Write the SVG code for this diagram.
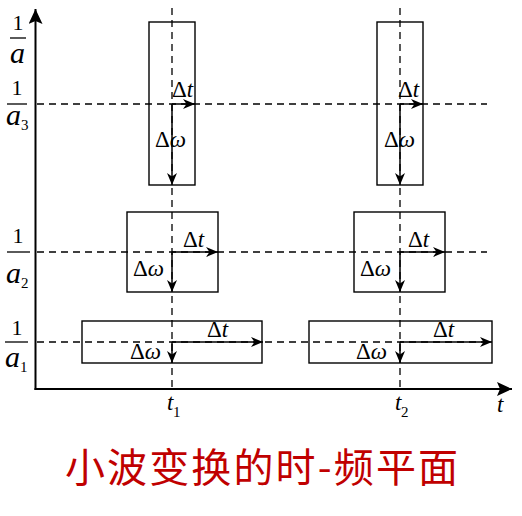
<svg xmlns="http://www.w3.org/2000/svg" width="522" height="516" viewBox="0 0 522 516">
<style>
.ax{stroke:#000;stroke-width:2;fill:none}
.dash{stroke:#000;stroke-width:1.3;stroke-dasharray:7 5;fill:none}
.box{stroke:#000;stroke-width:1.4;fill:none}
.arr{stroke:#000;stroke-width:1.5;fill:none;marker-end:url(#ah)}
.bar{stroke:#000;stroke-width:1.3}
.lb{font-size:23px}
.num{font-size:22px}
.it{font-style:italic}
.big{font-size:30px;font-style:italic}
.sub{font-size:15px}
</style>
<defs>
<marker id="ah" markerUnits="userSpaceOnUse" markerWidth="13" markerHeight="10" refX="12" refY="5" orient="auto">
<path d="M0,0 L12,5 L0,10 L3.5,5 Z" fill="#000"/>
</marker>
<marker id="axh" markerUnits="userSpaceOnUse" markerWidth="16" markerHeight="14" refX="15" refY="7" orient="auto">
<path d="M0,0 L15,7 L0,14 L3,7 Z" fill="#000"/>
</marker>
</defs>

<g id="axes">
<line class="ax" x1="35.5" y1="390" x2="35.5" y2="9" marker-end="url(#axh)"/>
<line class="ax" x1="34.5" y1="389" x2="512" y2="389" marker-end="url(#axh)"/>
</g>

<g id="gridlines">
<line class="dash" x1="172" y1="8" x2="172" y2="389"/>
<line class="dash" x1="400" y1="8" x2="400" y2="389"/>
<line class="dash" x1="37" y1="104" x2="487" y2="104"/>
<line class="dash" x1="37" y1="252" x2="487" y2="252"/>
<line class="dash" x1="37" y1="342" x2="490" y2="342"/>
</g>

<g id="box-t1-a3"><rect class="box" x="149" y="22" width="46" height="163"/></g>
<g id="box-t2-a3"><rect class="box" x="377" y="22" width="46" height="163"/></g>
<g id="box-t1-a2"><rect class="box" x="127" y="212" width="91" height="80"/></g>
<g id="box-t2-a2"><rect class="box" x="354" y="212" width="91" height="80"/></g>
<g id="box-t1-a1"><rect class="box" x="82" y="321" width="180" height="42"/></g>
<g id="box-t2-a1"><rect class="box" x="309" y="321" width="183" height="42"/></g>

<g id="connectors">
<line class="arr" x1="172" y1="104" x2="195" y2="104"/>
<line class="arr" x1="172" y1="104" x2="172" y2="185"/>
<line class="arr" x1="400" y1="104" x2="423" y2="104"/>
<line class="arr" x1="400" y1="104" x2="400" y2="185"/>
<line class="arr" x1="172" y1="252" x2="218" y2="252"/>
<line class="arr" x1="172" y1="252" x2="172" y2="292"/>
<line class="arr" x1="400" y1="252" x2="445" y2="252"/>
<line class="arr" x1="400" y1="252" x2="400" y2="292"/>
<line class="arr" x1="172" y1="342" x2="263" y2="342"/>
<line class="arr" x1="172" y1="342" x2="172" y2="363"/>
<line class="arr" x1="400" y1="342" x2="492" y2="342"/>
<line class="arr" x1="400" y1="342" x2="400" y2="363"/>
</g>

<g id="delta-labels" class="lb" font-family="'Liberation Serif','DejaVu Serif',serif" fill="#000">
<text x="172" y="97">Δ<tspan class="it">t</tspan></text>
<text x="155" y="147">Δ<tspan class="it">ω</tspan></text>
<text x="398" y="97">Δ<tspan class="it">t</tspan></text>
<text x="384" y="147">Δ<tspan class="it">ω</tspan></text>
<text x="183" y="247">Δ<tspan class="it">t</tspan></text>
<text x="133" y="276">Δ<tspan class="it">ω</tspan></text>
<text x="408" y="247">Δ<tspan class="it">t</tspan></text>
<text x="360" y="276">Δ<tspan class="it">ω</tspan></text>
<text x="207" y="337">Δ<tspan class="it">t</tspan></text>
<text x="130" y="359">Δ<tspan class="it">ω</tspan></text>
<text x="433" y="337">Δ<tspan class="it">t</tspan></text>
<text x="356" y="359">Δ<tspan class="it">ω</tspan></text>
</g>

<g id="y-labels" font-family="'Liberation Serif','DejaVu Serif',serif" fill="#000">
<text class="num" x="18" y="30" text-anchor="middle">1</text>
<line class="bar" x1="10" y1="38" x2="26" y2="38"/>
<text class="big" x="10" y="63">a</text>

<text class="num" x="17" y="95" text-anchor="middle">1</text>
<line class="bar" x1="7" y1="104" x2="27" y2="104"/>
<text class="big" x="6" y="125">a</text><text class="sub" x="21" y="130">3</text>

<text class="num" x="18" y="243" text-anchor="middle">1</text>
<line class="bar" x1="7" y1="252" x2="30" y2="252"/>
<text class="big" x="6" y="283">a</text><text class="sub" x="21" y="288">2</text>

<text class="num" x="17" y="335" text-anchor="middle">1</text>
<line class="bar" x1="5" y1="342" x2="28" y2="342"/>
<text class="big" x="5" y="367">a</text><text class="sub" x="20" y="372">1</text>
</g>

<g id="x-labels" font-family="'Liberation Serif','DejaVu Serif',serif" fill="#000">
<text class="lb it" x="167" y="410">t</text><text class="sub" x="173" y="417">1</text>
<text class="lb it" x="395" y="410">t</text><text class="sub" x="401" y="417">2</text>
<text class="lb it" x="497" y="412">t</text>
</g>

<g id="title">
<text x="65" y="482" textLength="393" lengthAdjust="spacing" font-family="'Noto Sans CJK SC','Noto Sans',sans-serif" font-size="40" fill="#c00000">小波变换的时-频平面</text>
</g>
</svg>
